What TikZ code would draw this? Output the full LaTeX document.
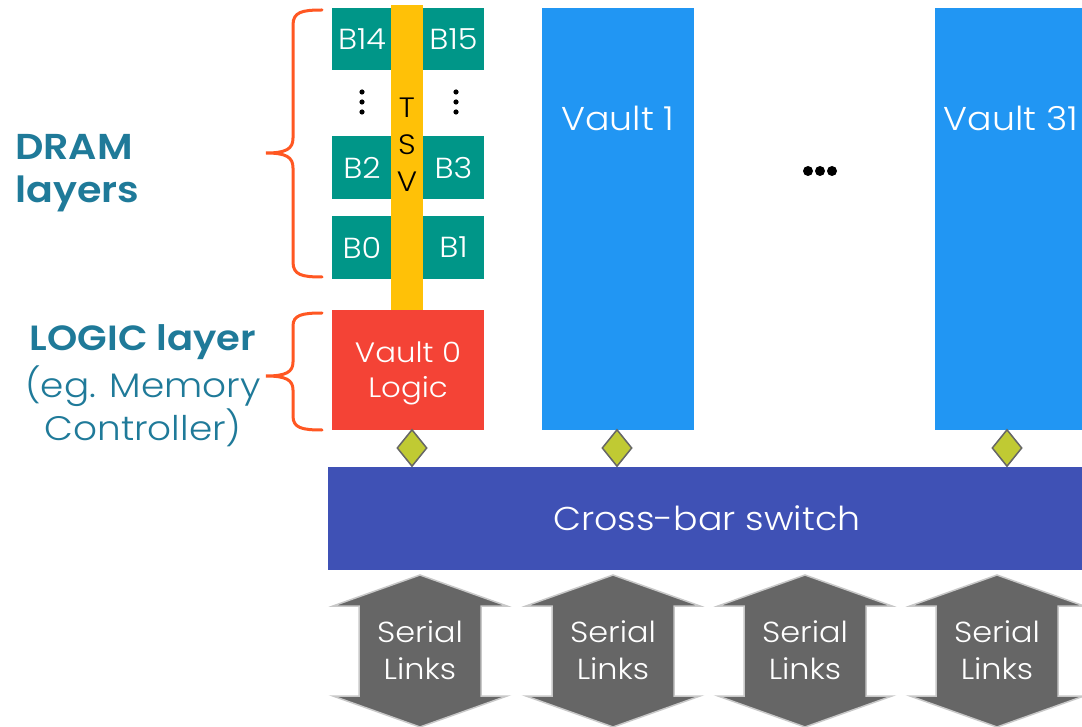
\documentclass[tikz,border=0pt]{standalone}
\usepackage{fontspec}
\IfFontExistsTF{Poppins Light}
  {\setmainfont{Poppins Light}[BoldFont={Poppins SemiBold}, FakeStretch=1.1]}
  {\setmainfont{Poppins}[FakeStretch=1.1]}
\usetikzlibrary{shapes.geometric,backgrounds}

\definecolor{bankteal}{HTML}{009688}
\definecolor{tsvamber}{HTML}{FFC107}
\definecolor{logicred}{HTML}{F44336}
\definecolor{vaultblue}{HTML}{2196F3}
\definecolor{xbarindigo}{HTML}{3F51B5}
\definecolor{portlime}{HTML}{C0CA33}
\definecolor{portgrey}{HTML}{666666}
\definecolor{linkgrey}{HTML}{666666}
\definecolor{linkedge}{HTML}{C8C8C8}
\definecolor{braceorange}{HTML}{FF5722}
\definecolor{captionblue}{HTML}{1F7A99}

\tikzset{
  bank/.style={rectangle, fill=bankteal, text=white, inner sep=0pt,
    minimum width=60pt, minimum height=62pt,
    font=\fontsize{29}{32}\selectfont},
  tsvbar/.style={rectangle, fill=tsvamber, inner sep=0pt,
    minimum width=32pt, minimum height=305pt},
  vaultbox/.style={rectangle, fill=vaultblue, inner sep=0pt,
    minimum width=152pt, minimum height=422pt},
  vaulttext/.style={text=white, inner sep=0pt, font=\fontsize{33}{40}\selectfont},
  port/.style={diamond, fill=portlime, draw=portgrey, line width=1.5pt,
    inner sep=0pt, minimum width=30pt, minimum height=37pt},
  linkarrow/.style={fill=linkgrey, draw=linkedge, line width=1.5pt},
  linktext/.style={text=white, align=center, inner sep=0pt,
    font=\fontsize{29}{37}\selectfont},
  brace/.style={draw=braceorange, line width=3pt, line cap=round},
  caption/.style={text=captionblue, inner sep=0pt},
}

\begin{document}
\begin{tikzpicture}[x=1pt, y=-1pt]
  \clip (0,0) rectangle (1082,727);
  \fill[white] (0,0) rectangle (1082,727);

  % DRAM banks of vault 0
  \node[bank] (b14) at (362,39) {B14};
  \node[bank, minimum width=61pt] (b15) at (453.5,39) {B15};
  \node[bank, minimum height=63pt] (b2) at (362,168) {B2};
  \node[bank, minimum width=61pt, minimum height=63pt] (b3) at (453.5,168) {B3};
  \node[bank, minimum height=63pt] (b0) at (362,247.5) {B0};
  \node[bank, minimum width=61pt, minimum height=63pt] (b1) at (453.5,247.5) {B1};

  % vertical ellipses between bank rows
  \foreach \yy in {92,102,112}{
    \fill (362,\yy) circle (2.6pt);
    \fill (456,\yy) circle (2.6pt);
  }

  % through-silicon via
  \node[tsvbar] (tsv) at (407,157.5) {};
  \node[align=center, inner sep=0pt, font=\fontsize{28}{37}\selectfont]
    (tsvtext) at (407,145) {T\\S\\V};

  % vault 0 logic die
  \node[rectangle, fill=logicred, text=white, align=center, inner sep=0pt,
    minimum width=152pt, minimum height=120pt,
    font=\fontsize{28}{35}\selectfont] (logic) at (408,370) {};
  \node[text=white, align=center, inner sep=0pt,
    font=\fontsize{28}{35}\selectfont] (logictext) at (408,373) {Vault 0\\Logic};

  % remaining vaults
  \node[vaultbox] (vault1) at (618,219) {};
  \node[vaulttext] (vault1text) at (618,118) {Vault 1};
  \node[vaultbox] (vault31) at (1011,219) {};
  \node[vaulttext] (vault31text) at (1011,118) {Vault 31};

  % horizontal ellipsis between vaults
  \foreach \xx in {808,820,832}{
    \fill (\xx,171) circle (5pt);
  }

  % cross-bar switch
  \node[rectangle, fill=xbarindigo, text=white, inner sep=0pt,
    minimum width=758pt, minimum height=103pt,
    font=\fontsize{33}{40}\selectfont] (xbar) at (707,518.5) {Cross-bar switch};

  % vault ports onto the switch
  \node[port] (port0) at (412,448) {};
  \node[port] (port1) at (617,448) {};
  \node[port] (port31) at (1007,448) {};

  % serial links
  \foreach \i/\cx in {1/420,2/613,3/805,4/997}{
    \draw[linkarrow] (\cx,575) -- (\cx+87,606) -- (\cx+61,606) -- (\cx+61,696)
      -- (\cx+87,696) -- (\cx,727) -- (\cx-87,696) -- (\cx-61,696)
      -- (\cx-61,606) -- (\cx-87,606) -- cycle;
    \node[linktext] (link\i) at (\cx,650) {Serial\\Links};
  }

  % braces
  \draw[brace] (322,10) .. controls (302,10) and (293,12) .. (293,25)
    -- (293,138) .. controls (293,149) and (286,153) .. (266,153)
    .. controls (286,153) and (293,157) .. (293,168)
    -- (293,262) .. controls (293,275) and (302,277) .. (322,277);
  \draw[brace] (322,313) .. controls (302,313) and (293,315) .. (293,326)
    -- (293,362) .. controls (293,372) and (286,376) .. (266,376)
    .. controls (286,376) and (293,380) .. (293,390)
    -- (293,416) .. controls (293,428) and (302,430) .. (322,430);

  % layer captions
  \node[caption, anchor=west, align=left, font=\bfseries\fontsize{36}{43}\selectfont]
    (dramcap) at (15,173) {DRAM\\layers};
  \node[caption, font=\bfseries\fontsize{35}{43}\selectfont]
    (logiccap) at (143,342) {LOGIC layer};
  \node[caption, align=center, font=\fontsize{34}{43}\selectfont]
    (logicnote) at (143,406.5) {(eg. Memory\\Controller)};
\end{tikzpicture}
\end{document}
